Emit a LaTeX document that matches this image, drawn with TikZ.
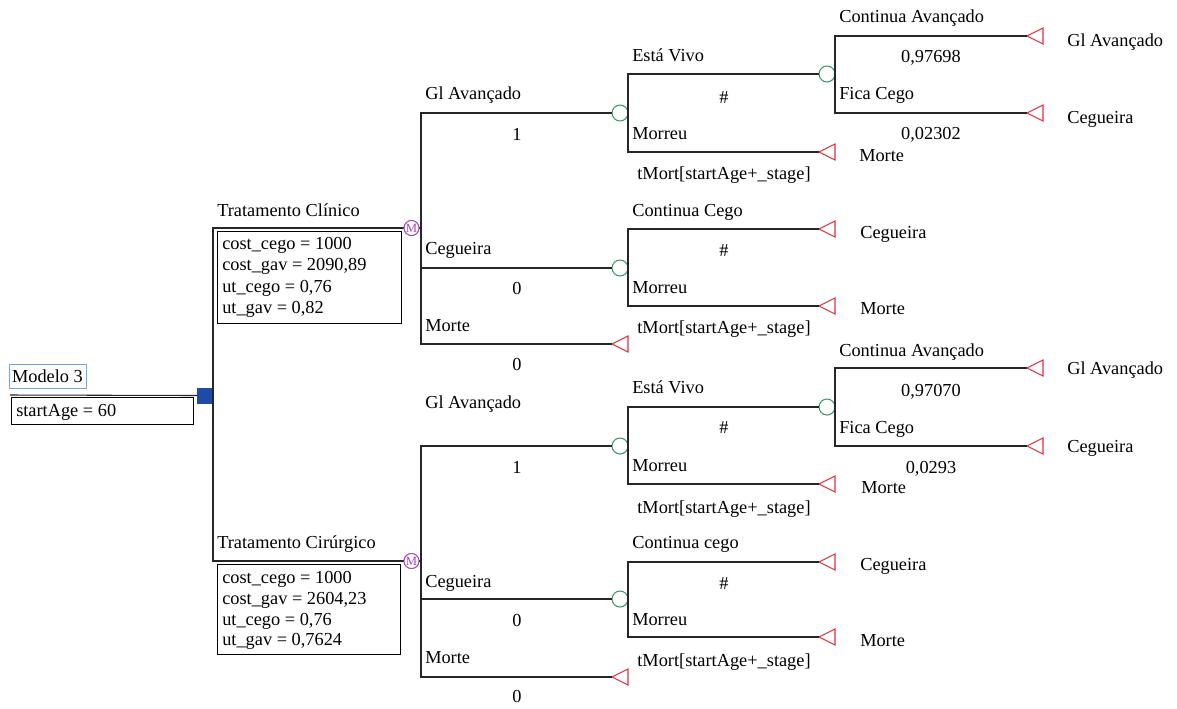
\documentclass[tikz,border=0pt]{standalone}
\usepackage{fontspec}
\setmainfont{Liberation Serif}
\usetikzlibrary{shapes.geometric,shadows}
\definecolor{decblue}{HTML}{1F4AA6}
\definecolor{chgreen}{HTML}{3A9A6A}
\definecolor{termred}{HTML}{E0303C}
\definecolor{mkpurple}{HTML}{A545C0}
\definecolor{lblue}{HTML}{6AAAE6}
\begin{document}
\begin{tikzpicture}[x=0.75pt,y=-0.75pt,
  font=\fontsize{13.75}{16}\selectfont,
  branch/.style={draw=black!85, line width=0.8pt},
  chance/.style={circle, draw=chgreen, line width=0.8pt, minimum size=12pt, inner sep=0pt, outer sep=0pt, fill=white},
  markov/.style={circle, draw=mkpurple, line width=0.7pt, minimum size=11.25pt, inner sep=0pt, outer sep=0pt, fill=white, text=mkpurple, font=\fontsize{9.5}{9.5}\selectfont},
  decision/.style={rectangle, fill=decblue, minimum size=12pt, inner sep=0pt, outer sep=0pt},
  term/.style={isosceles triangle, isosceles triangle stretches, shape border rotate=180, minimum width=12pt, minimum height=12pt, draw=termred, line width=0.8pt, inner sep=0pt, outer sep=0pt, fill=white, anchor=apex},
  lbl/.style={anchor=west, inner sep=0pt, text height=0.66em, text depth=0.02em, yshift=-1.5pt},
  prob/.style={anchor=center, inner sep=0pt, text height=0.66em, text depth=0.02em, yshift=-1.5pt},
  varbox/.style={rectangle, draw=black, line width=0.6pt, fill=white, inner sep=0pt, outer sep=0pt,
    drop shadow={shadow xshift=1.1pt, shadow yshift=-1.1pt, fill=black!45, opacity=1}},
]
\useasboundingbox (0,0) rectangle (1177,708);

% ---------- root ----------
\node[draw=lblue, line width=0.6pt, minimum width=57.75pt, minimum height=18pt, inner sep=0pt] (title) at (47.5,376) {Modelo 3};
\coordinate (r0) at (10,395);
\node[decision] (dec) at (205,395.5) {};
\node[varbox, minimum width=136.5pt, minimum height=20.25pt] (rootbox) at (102,410.5) {};
\node[lbl] (rootvar) at (16,410) {startAge = 60};

% ---------- markov nodes ----------
\node[markov] (m1) at (411.5,228) {M};
\node[markov] (m2) at (411.5,561) {M};

% ---------- upper tree nodes ----------
\node[chance] (c1) at (620,113) {};
\node[chance] (c2) at (620,268) {};
\node[term] (t1) at (612,344) {};
\node[chance] (c5) at (827,74) {};
\node[term] (t2) at (819,152) {};
\node[term] (t3) at (1027,36) {};
\node[term] (t4) at (1027,113) {};
\node[term] (t5) at (819,229) {};
\node[term] (t6) at (819,306) {};

% ---------- lower tree nodes ----------
\node[chance] (c3) at (620,446) {};
\node[chance] (c4) at (620,599) {};
\node[term] (t7) at (612,677) {};
\node[chance] (c6) at (827,407) {};
\node[term] (t8) at (819,484) {};
\node[term] (t9) at (1027,368) {};
\node[term] (t10) at (1027,446) {};
\node[term] (t11) at (819,562) {};
\node[term] (t12) at (819,637) {};

% ---------- connectors ----------
\draw[branch] (r0) -- (dec.west);
\draw[branch] (dec.east) |- (m1.west);
\draw[branch] (dec.east) |- (m2.west);
\draw[branch] (m1.east) -- ++(2,0) |- (c1.west);
\draw[branch] (m1.east) -- ++(2,0) |- (c2.west);
\draw[branch] (m1.east) -- ++(2,0) |- (t1.apex);
\draw[branch] (c1.east) |- (c5.west);
\draw[branch] (c1.east) |- (t2.apex);
\draw[branch] (c5.east) |- (t3.apex);
\draw[branch] (c5.east) |- (t4.apex);
\draw[branch] (c2.east) |- (t5.apex);
\draw[branch] (c2.east) |- (t6.apex);
\draw[branch] (m2.east) -- ++(2,0) |- (c3.west);
\draw[branch] (m2.east) -- ++(2,0) |- (c4.west);
\draw[branch] (m2.east) -- ++(2,0) |- (t7.apex);
\draw[branch] (c3.east) |- (c6.west);
\draw[branch] (c3.east) |- (t8.apex);
\draw[branch] (c6.east) |- (t9.apex);
\draw[branch] (c6.east) |- (t10.apex);
\draw[branch] (c4.east) |- (t11.apex);
\draw[branch] (c4.east) |- (t12.apex);

% redraw node shapes on top of lines
\node[markov] at (m1) {M};
\node[markov] at (m2) {M};

% ---------- strategy labels and boxes ----------
\node[lbl] (s1) at (217,210) {Tratamento Clínico};
\node[varbox, minimum width=138pt, minimum height=69pt] (box1) at (309,277) {};
\node[lbl] (b11) at (222,243) {cost\_cego = 1000};
\node[lbl] (b12) at (222,264) {cost\_gav = 2090,89};
\node[lbl] (b13) at (222,286) {ut\_cego = 0,76};
\node[lbl] (b14) at (222,307) {ut\_gav = 0,82};

\node[lbl] (s2) at (217,542) {Tratamento Cirúrgico};
\node[varbox, minimum width=137.25pt, minimum height=67.5pt] (box2) at (308.5,609) {};
\node[lbl] (b21) at (222,577) {cost\_cego = 1000};
\node[lbl] (b22) at (222,598) {cost\_gav = 2604,23};
\node[lbl] (b23) at (222,619) {ut\_cego = 0,76};
\node[lbl] (b24) at (222,639) {ut\_gav = 0,7624};

% ---------- upper tree labels ----------
\node[lbl] (u1) at (425,93) {Gl Avançado};
\node[prob] (u2) at (517,134) {1};
\node[lbl] (u3) at (425,248) {Cegueira};
\node[prob] (u4) at (517,288) {0};
\node[lbl] (u5) at (425,325) {Morte};
\node[prob] (u6) at (517,364) {0};
\node[lbl] (u7) at (632,55) {Está Vivo};
\node[prob] (u8) at (724,97) {\#};
\node[lbl] (u9) at (632,133) {Morreu};
\node[prob] (u10) at (724,173) {tMort[startAge+\_stage]};
\node[lbl] (u11) at (839,16) {Continua Avançado};
\node[prob] (u12) at (931,56) {0,97698};
\node[lbl] (u13) at (839,93) {Fica Cego};
\node[prob] (u14) at (931,133) {0,02302};
\node[lbl] (u15) at (1067,40) {Gl Avançado};
\node[lbl] (u16) at (1067,117) {Cegueira};
\node[lbl] (u17) at (859,155) {Morte};
\node[lbl] (u18) at (632,210) {Continua Cego};
\node[prob] (u19) at (724,250) {\#};
\node[lbl] (u20) at (632,287) {Morreu};
\node[prob] (u21) at (724,327) {tMort[startAge+\_stage]};
\node[lbl] (u22) at (860,232) {Cegueira};
\node[lbl] (u23) at (860,308) {Morte};

% ---------- lower tree labels ----------
\node[lbl] (w1) at (425,402) {Gl Avançado};
\node[prob] (w2) at (517,467) {1};
\node[lbl] (w3) at (425,581) {Cegueira};
\node[prob] (w4) at (517,620) {0};
\node[lbl] (w5) at (425,657) {Morte};
\node[prob] (w6) at (517,696) {0};
\node[lbl] (w7) at (632,387) {Está Vivo};
\node[prob] (w8) at (724,427) {\#};
\node[lbl] (w9) at (632,465) {Morreu};
\node[prob] (w10) at (724,507) {tMort[startAge+\_stage]};
\node[lbl] (w11) at (839,350) {Continua Avançado};
\node[prob] (w12) at (931,390) {0,97070};
\node[lbl] (w13) at (839,427) {Fica Cego};
\node[prob] (w14) at (931,467) {0,0293};
\node[lbl] (w15) at (1067,368) {Gl Avançado};
\node[lbl] (w16) at (1067,446) {Cegueira};
\node[lbl] (w17) at (861,487) {Morte};
\node[lbl] (w18) at (632,542) {Continua cego};
\node[prob] (w19) at (724,583) {\#};
\node[lbl] (w20) at (632,619) {Morreu};
\node[prob] (w21) at (724,660) {tMort[startAge+\_stage]};
\node[lbl] (w22) at (860,564) {Cegueira};
\node[lbl] (w23) at (860,640) {Morte};
\end{tikzpicture}
\end{document}
